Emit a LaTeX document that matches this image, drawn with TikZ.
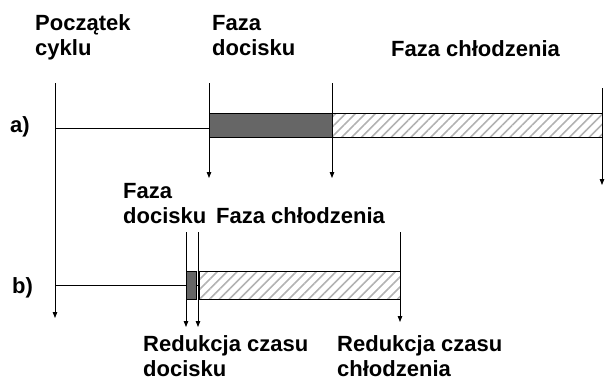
\documentclass[tikz,border=0pt]{standalone}
\usepackage{fontspec}
\setmainfont{Liberation Sans}
\usetikzlibrary{arrows.meta,patterns.meta}
\begin{document}
\begin{tikzpicture}[x=1pt,y=-1pt,
  lbl/.style={font=\fontsize{22}{24.5}\selectfont\bfseries, anchor=base west, inner sep=0pt, align=left},
  ln/.style={line width=0.8pt},
  arr/.style={ln,-{Triangle[length=6pt,width=4.5pt]}},
  press/.style={draw=black,line width=0.8pt,fill=black!60},
  cool/.style={draw=black,line width=0.8pt,pattern={Lines[angle=45,distance=7pt,line width=1.6pt]},pattern color=black!30}]
\useasboundingbox (0,0) rectangle (605,380);

% labels (base anchor = baseline of the last line)
\node[lbl] (start) at (35,55) {Początek\\cyklu};
\node[lbl] (fda) at (212,55) {Faza\\docisku};
\node[lbl] (fca) at (391,56) {Faza chłodzenia};
\node[lbl] (la) at (10,132) {a)};
\node[lbl] (lb) at (12,293) {b)};
\node[lbl] (fdb) at (123,223) {Faza\\docisku};
\node[lbl] (fcb) at (216,223) {Faza chłodzenia};
\node[lbl] (rd) at (143,376) {Redukcja czasu\\docisku};
\node[lbl] (rc) at (337,376) {Redukcja czasu\\chłodzenia};

% coordinates
\coordinate (t0) at (55,83);
\coordinate (t1) at (55,318);
\coordinate (a0) at (55,128);
\coordinate (a1) at (209,128);
\coordinate (ap1) at (209,113);
\coordinate (ap2) at (332,137);
\coordinate (ac1) at (332,113);
\coordinate (ac2) at (602,137);
\coordinate (av1s) at (209,83);
\coordinate (av1e) at (209,178);
\coordinate (av2s) at (332,83);
\coordinate (av2e) at (332,178);
\coordinate (av3s) at (602,88);
\coordinate (av3e) at (602,185);

\coordinate (b0) at (55,285);
\coordinate (b1) at (186,285);
\coordinate (b2) at (196,285);
\coordinate (b3) at (199,285);
\coordinate (bp1) at (186,271);
\coordinate (bp2) at (196,299);
\coordinate (bc1) at (199,271);
\coordinate (bc2) at (400,299);
\coordinate (bv1s) at (186,232);
\coordinate (bv1e) at (186,327);
\coordinate (bv2s) at (198,232);
\coordinate (bv2e) at (198,327);
\coordinate (bv3s) at (400,232);
\coordinate (bv3e) at (400,322);

% time axis
\draw[arr] (t0) -- (t1);

% a)
\draw[ln] (a0) -- (a1);
\draw[press] (ap1) rectangle (ap2);
\draw[cool] (ac1) rectangle (ac2);
\draw[arr] (av1s) -- (av1e);
\draw[arr] (av2s) -- (av2e);
\draw[arr] (av3s) -- (av3e);

% b)
\draw[ln] (b0) -- (b1);
\draw[ln] (b2) -- (b3);
\draw[press] (bp1) rectangle (bp2);
\draw[cool] (bc1) rectangle (bc2);
\draw[arr] (bv1s) -- (bv1e);
\draw[arr] (bv2s) -- (bv2e);
\draw[arr] (bv3s) -- (bv3e);
\end{tikzpicture}
\end{document}
